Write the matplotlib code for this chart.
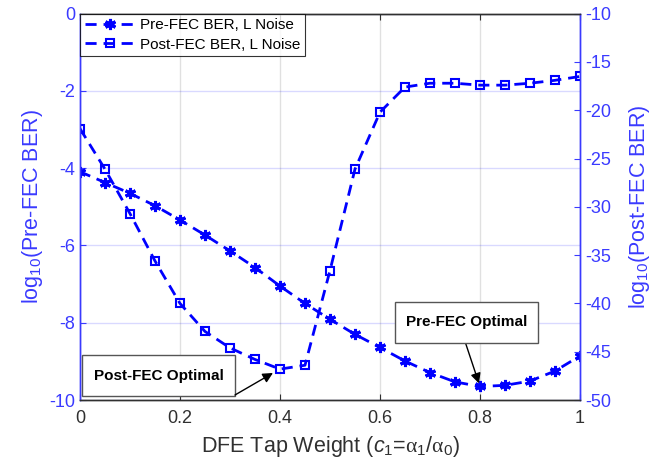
import matplotlib
matplotlib.use("Agg")
import matplotlib.pyplot as plt
from matplotlib.patches import Rectangle
import numpy as np

plt.rcParams['font.family'] = ['Liberation Sans', 'DejaVu Sans']
plt.rcParams['mathtext.fontset'] = 'custom'
plt.rcParams['mathtext.rm'] = 'Liberation Serif'
plt.rcParams['mathtext.it'] = 'Liberation Sans:italic'
plt.rcParams['mathtext.sf'] = 'Liberation Sans'
plt.rcParams['axes.unicode_minus'] = False

# ---- data ----
tap_weight = [0.0, 0.05, 0.1, 0.15, 0.2, 0.25, 0.3, 0.35, 0.4, 0.45, 0.5,
              0.55, 0.6, 0.65, 0.7, 0.75, 0.8, 0.85, 0.9, 0.95, 1.0]
pre_fec_log_ber = [-4.09, -4.37, -4.65, -4.97, -5.34, -5.73, -6.14, -6.57, -7.05,
                   -7.50, -7.91, -8.30, -8.64, -8.99, -9.29, -9.53, -9.65, -9.62,
                   -9.51, -9.25, -8.86]
post_fec_log_ber = [-21.9, -26.1, -30.7, -35.6, -40.0, -42.9, -44.6, -45.8, -46.8,
                    -46.4, -36.6, -26.1, -20.2, -17.6, -17.2, -17.2, -17.4, -17.4,
                    -17.2, -16.9, -16.5]
left_ticks = [-10, -8, -6, -4, -2, 0]
right_ticks = [-50, -45, -40, -35, -30, -25, -20, -15, -10]
x_ticks = [0, 0.2, 0.4, 0.6, 0.8, 1]
x_tick_labels = ['0', '0.2', '0.4', '0.6', '0.8', '1']

BLUE = '#0000ff'
AXBLUE = '#3a3aff'
GRAY = '#303030'

fig = plt.figure(figsize=(6.54, 4.72), dpi=100)
ax = fig.add_axes([0.1223, 0.1525, 0.7645, 0.8185])
ax2 = ax.twinx()

l1, = ax.plot(tap_weight, pre_fec_log_ber, linestyle=(0, (4, 2.5)), color=BLUE,
              linewidth=2, marker=(6, 2, 0), markersize=8, markeredgewidth=2.2,
              label='Pre-FEC BER, L Noise')
l2, = ax2.plot(tap_weight, post_fec_log_ber, linestyle=(0, (4, 2.5)), color=BLUE,
               linewidth=2, marker='s', markersize=6, markerfacecolor='none',
               markeredgewidth=1.5, label='Post-FEC BER, L Noise')

ax.set_xlim(0, 1)
ax.set_ylim(-10, 0)
ax2.set_ylim(-50, -10)
ax.set_xticks(x_ticks)
ax.set_xticklabels(x_tick_labels)
ax.set_yticks(left_ticks)
ax2.set_yticks(right_ticks)

# grids
ax.xaxis.grid(True, color='#000000', alpha=0.12, linewidth=1)
ax.yaxis.grid(True, color=BLUE, alpha=0.15, linewidth=1)
ax.set_axisbelow(True)

# spines
for a in (ax, ax2):
    a.spines['left'].set_color(AXBLUE)
    a.spines['right'].set_color(AXBLUE)
    a.spines['top'].set_color(GRAY)
    a.spines['bottom'].set_color(GRAY)
    for s in a.spines.values():
        s.set_linewidth(1.0)

ax.tick_params(axis='x', direction='in', colors=GRAY, labelsize=13, top=True,
               length=4, pad=7)
ax.tick_params(axis='y', direction='in', colors=AXBLUE, labelsize=13, length=4)
ax2.tick_params(axis='y', direction='in', colors=AXBLUE, labelsize=13, length=4)

ax.set_xlabel(r'DFE Tap Weight ($\mathit{c}_{\mathsf{1}}$=$\mathrm{\alpha}_{\mathsf{1}}$/$\mathrm{\alpha}_{\mathsf{0}}$)',
              fontsize=15.5, color=GRAY, labelpad=5)
ax.set_ylabel(r'log$_{\mathsf{10}}$(Pre-FEC BER)', fontsize=15.5, color=AXBLUE, labelpad=3)
ax2.set_ylabel(r'log$_{\mathsf{10}}$(Post-FEC BER)', fontsize=15.5, color=AXBLUE, labelpad=12)

leg = ax2.legend(handles=[l1, l2], loc='upper left', fontsize=11, frameon=True,
                 fancybox=False, edgecolor='black', borderaxespad=0,
                 handlelength=3.3, borderpad=0.3, labelspacing=0.35,
                 handletextpad=0.3)
leg.get_frame().set_linewidth(0.8)

# annotations
ax2.add_patch(Rectangle((0.004, 0.01), 0.306, 0.107, transform=ax2.transAxes,
                        facecolor='white', edgecolor='#555555', linewidth=1, zorder=5))
ax2.text(0.157, 0.063, 'Post-FEC Optimal', transform=ax2.transAxes, ha='center',
         va='center', fontsize=11, fontweight='bold', color='black', zorder=6)
ax2.annotate('', xy=(0.386, -47.2), xycoords='data',
             xytext=(0.31, 0.013), textcoords='axes fraction',
             arrowprops=dict(arrowstyle='-|>', color='black', lw=1,
                             mutation_scale=15, shrinkA=0, shrinkB=0), zorder=6)

ax2.add_patch(Rectangle((0.63, 0.148), 0.286, 0.106, transform=ax2.transAxes,
                        facecolor='white', edgecolor='#555555', linewidth=1, zorder=5))
ax2.text(0.773, 0.202, 'Pre-FEC Optimal', transform=ax2.transAxes, ha='center',
         va='center', fontsize=11, fontweight='bold', color='black', zorder=6)
ax.annotate('', xy=(0.798, -9.57), xycoords='data',
            xytext=(0.771, 0.148), textcoords='axes fraction',
            arrowprops=dict(arrowstyle='-|>', color='black', lw=1,
                            mutation_scale=15, shrinkA=0, shrinkB=0), zorder=6)

fig.savefig('out.png', dpi=100)
